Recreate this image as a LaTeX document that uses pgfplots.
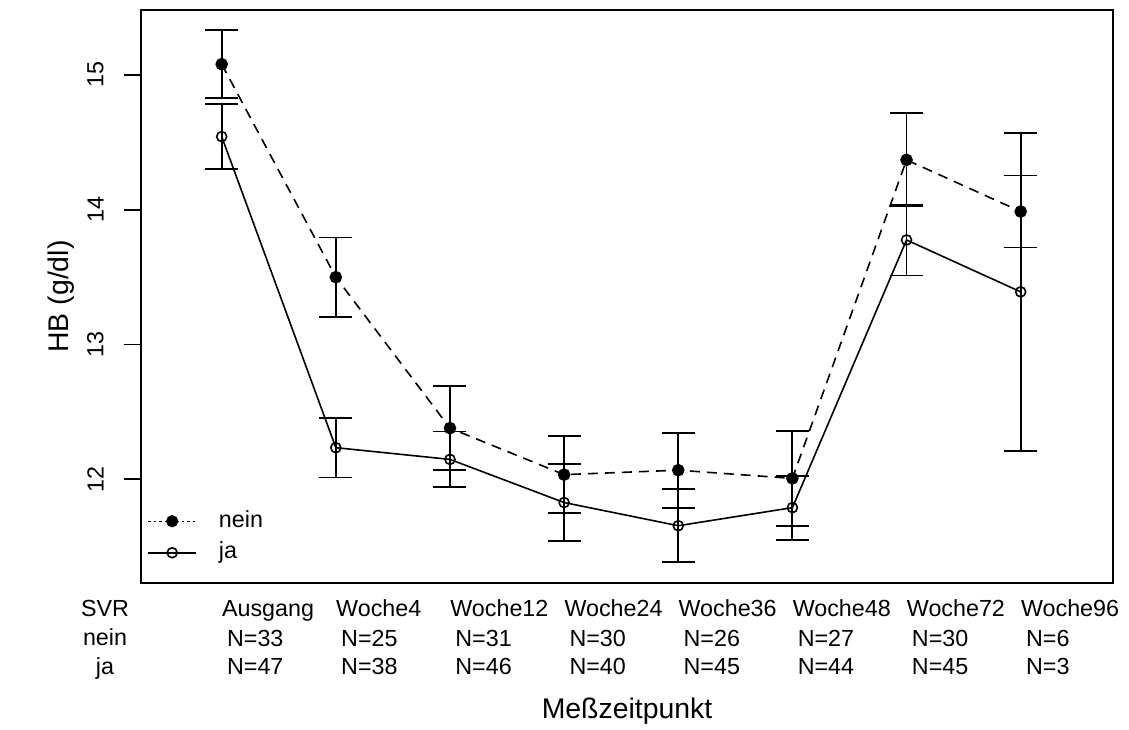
\documentclass[border=0pt]{standalone}
\usepackage{pgfplots}
\pgfplotsset{compat=1.18}
\usepackage{pgfplotstable}
\usepackage{fontspec}
\setmainfont{Liberation Sans}

\pgfplotstableread{
x y e
1 15.080 0.253
2 13.500 0.295
3 12.380 0.310
4 12.035 0.285
5 12.068 0.278
6 12.007 0.351
7 14.370 0.345
8 13.987 0.267
}\nein

\pgfplotstableread{
x y e
1 14.543 0.240
2 12.235 0.222
3 12.148 0.207
4 11.828 0.283
5 11.656 0.272
6 11.790 0.237
7 13.776 0.263
8 13.391 1.181
}\ja

\newcommand{\lblfont}{\fontsize{11.65}{13}\selectfont}
\newcommand{\axfont}{\fontsize{14.2}{16}\selectfont}

\begin{document}
\begin{tikzpicture}
\useasboundingbox (-70.5pt,-73pt) rectangle (494pt,291.5pt);
\begin{axis}[
  at={(0pt,0pt)}, anchor=south west,
  scale only axis, width=486pt, height=286.5pt,
  xmin=0.293, xmax=8.809, ymin=11.231, ymax=15.482,
  clip=false,
  axis line style={line width=0.9pt},
  ytick={12,13,14,15},
  ytick pos=left, tick align=outside, major tick length=8.5pt,
  ytick style={line width=0.9pt, black},
  yticklabel style={xshift=-10pt, rotate=90, anchor=south, inner sep=0pt, font=\lblfont},
  /pgf/number format/assume math mode=true,
  xtick={1,...,8},
  xtick style={draw=none},
  xticklabels={Ausgang,Woche4,Woche12,Woche24,Woche36,Woche48,Woche72,Woche96},
  xticklabel style={anchor=base west, inner sep=0pt, yshift=-8pt, font=\lblfont},
  xlabel={Meßzeitpunkt},
  xlabel style={at={(axis description cs:0.5,-0.2373)}, anchor=base, font=\axfont, inner sep=0pt},
  ylabel={HB (g/dl)},
  ylabel style={at={(axis description cs:-0.0823,0.5)}, anchor=center, font=\axfont, inner sep=0pt},
  legend image code/.code={\draw[mark repeat=2,mark phase=2,#1] plot coordinates {(0pt,0pt) (12pt,0pt) (24pt,0pt)};},
  legend style={draw=none, fill=none, at={(axis description cs:0.00617,0.0803)}, anchor=west,
    font=\lblfont, inner sep=0pt, row sep=4.75pt, column sep=11pt,
    nodes={inner sep=0pt, text height=8.5pt, text depth=2.5pt}},
  legend cell align=left,
  error bars/error mark options={rotate=90, mark size=8.25pt, line width=0.9pt, solid},
  error bars/error bar style={line width=0.9pt, solid},
]
\addlegendimage{black, line width=0.6pt, dash pattern=on 1.2pt off 1.6pt, mark=*, mark size=2.75pt, mark options={solid, fill=black}}
\addlegendentry{nein}
\addlegendimage{black, line width=0.8pt, mark=o, mark size=2.5pt, mark options={solid, fill=white, line width=0.8pt}}
\addlegendentry{ja}

\addplot[forget plot, black, line width=0.8pt, dash pattern=on 5pt off 3.5pt,
  mark=*, mark size=2.75pt, mark options={solid, fill=black},
  error bars/.cd, y dir=both, y explicit]
  table[x=x, y=y, y error=e] {\nein};
\addplot[forget plot, black, line width=0.8pt,
  mark=o, mark size=2.5pt, mark options={solid, fill=white, line width=0.8pt},
  error bars/.cd, y dir=both, y explicit]
  table[x=x, y=y, y error=e] {\ja};

\node[anchor=base, font=\lblfont] at (axis description cs:-0.037,-0.0576) {SVR};
\node[anchor=base, font=\lblfont] at (axis description cs:-0.037,-0.1099) {nein};
\node[anchor=base, font=\lblfont] at (axis description cs:-0.037,-0.1593) {ja};

\node[anchor=base west, inner sep=0pt, xshift=2.5pt, font=\lblfont] at (axis cs:1,11.231) [yshift=-31.5pt] {N=33};
\node[anchor=base west, inner sep=0pt, xshift=2.5pt, font=\lblfont] at (axis cs:2,11.231) [yshift=-31.5pt] {N=25};
\node[anchor=base west, inner sep=0pt, xshift=2.5pt, font=\lblfont] at (axis cs:3,11.231) [yshift=-31.5pt] {N=31};
\node[anchor=base west, inner sep=0pt, xshift=2.5pt, font=\lblfont] at (axis cs:4,11.231) [yshift=-31.5pt] {N=30};
\node[anchor=base west, inner sep=0pt, xshift=2.5pt, font=\lblfont] at (axis cs:5,11.231) [yshift=-31.5pt] {N=26};
\node[anchor=base west, inner sep=0pt, xshift=2.5pt, font=\lblfont] at (axis cs:6,11.231) [yshift=-31.5pt] {N=27};
\node[anchor=base west, inner sep=0pt, xshift=2.5pt, font=\lblfont] at (axis cs:7,11.231) [yshift=-31.5pt] {N=30};
\node[anchor=base west, inner sep=0pt, xshift=2.5pt, font=\lblfont] at (axis cs:8,11.231) [yshift=-31.5pt] {N=6};

\node[anchor=base west, inner sep=0pt, xshift=2.5pt, font=\lblfont] at (axis cs:1,11.231) [yshift=-45.65pt] {N=47};
\node[anchor=base west, inner sep=0pt, xshift=2.5pt, font=\lblfont] at (axis cs:2,11.231) [yshift=-45.65pt] {N=38};
\node[anchor=base west, inner sep=0pt, xshift=2.5pt, font=\lblfont] at (axis cs:3,11.231) [yshift=-45.65pt] {N=46};
\node[anchor=base west, inner sep=0pt, xshift=2.5pt, font=\lblfont] at (axis cs:4,11.231) [yshift=-45.65pt] {N=40};
\node[anchor=base west, inner sep=0pt, xshift=2.5pt, font=\lblfont] at (axis cs:5,11.231) [yshift=-45.65pt] {N=45};
\node[anchor=base west, inner sep=0pt, xshift=2.5pt, font=\lblfont] at (axis cs:6,11.231) [yshift=-45.65pt] {N=44};
\node[anchor=base west, inner sep=0pt, xshift=2.5pt, font=\lblfont] at (axis cs:7,11.231) [yshift=-45.65pt] {N=45};
\node[anchor=base west, inner sep=0pt, xshift=2.5pt, font=\lblfont] at (axis cs:8,11.231) [yshift=-45.65pt] {N=3};
\end{axis}
\end{tikzpicture}
\end{document}
